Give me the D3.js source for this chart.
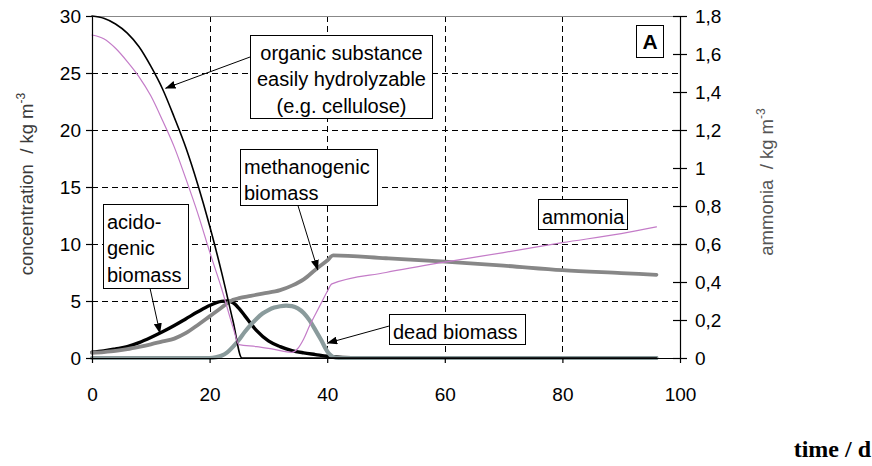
<!DOCTYPE html>
<html>
<head>
<meta charset="utf-8">
<script src="https://cdn.jsdelivr.net/npm/d3@7/dist/d3.min.js"></script>
<style>
  body { margin: 0; background: #fff; }
  svg { display: block; }
</style>
</head>
<body>
<svg id="chart" width="872" height="466"></svg>
<script>
// ---- axis ticks ----
const timeTicks = [0, 20, 40, 60, 80, 100];
const concTicks = [0, 5, 10, 15, 20, 25, 30];
const ammoniaTicks = [0, 0.2, 0.4, 0.6, 0.8, 1.0, 1.2, 1.4, 1.6, 1.8];

// ---- simulated time courses (time in d, concentrations in kg m-3) ----
// organic substance, easily hydrolyzable (left axis)
const organicTime = [0, 2, 4, 6, 8, 10, 12, 14, 16, 18, 20, 22, 24, 25.5, 30, 40, 50, 60, 70, 80, 90, 96];
const organicConc = [30, 29.8, 29.3, 28.5, 27.3, 25.6, 23.6, 21.1, 18.4, 15.2, 11.6, 7.6, 3.2, 0, 0, 0, 0, 0, 0, 0, 0, 0];

// acidogenic biomass (left axis)
const acidoTime = [0, 2, 4, 6, 8, 10, 12, 14, 16, 18, 20, 22, 23, 24, 25, 26, 28, 30, 32, 34, 36, 38, 40, 42, 45, 50, 96];
const acidoConc = [0.5, 0.62, 0.8, 1.0, 1.35, 1.8, 2.3, 2.85, 3.45, 4.05, 4.6, 4.97, 5.0, 4.85, 4.35, 3.7, 2.4, 1.5, 1.0, 0.65, 0.45, 0.3, 0.15, 0.07, 0.02, 0, 0];

// methanogenic biomass (left axis)
const methanoTime = [0, 2, 4, 6, 8, 10, 12, 14, 16, 18, 20, 22, 23, 24, 25, 27, 29, 32, 34, 36, 38, 40, 41, 50, 60, 70, 80, 90, 96];
const methanoConc = [0.45, 0.52, 0.62, 0.78, 0.98, 1.2, 1.45, 1.7, 2.2, 2.9, 3.65, 4.4, 4.8, 5.1, 5.25, 5.45, 5.65, 5.95, 6.35, 6.9, 7.75, 8.55, 9.0, 8.75, 8.45, 8.1, 7.7, 7.45, 7.3];

// dead biomass (left axis)
const deadTime = [0, 20, 21, 22, 23, 24, 25, 26, 27, 28, 29, 30, 31, 32, 33, 34, 35, 36, 37, 38, 39, 40, 41, 42, 96];
const deadConc = [0, 0, 0.05, 0.2, 0.5, 1.0, 1.6, 2.3, 2.9, 3.45, 3.9, 4.2, 4.42, 4.54, 4.6, 4.55, 4.35, 3.95, 3.3, 2.45, 1.55, 0.6, 0.1, 0, 0];

// ammonia (right axis)
const ammoniaTime = [0, 2, 4, 6, 8, 10, 12, 14, 16, 18, 20, 22, 24, 25, 28, 31, 34, 35, 36, 37, 38, 39, 40, 40.8, 50, 60, 70, 80, 90, 96];
const ammoniaConc = [1.70, 1.68, 1.63, 1.56, 1.48, 1.38, 1.25, 1.11, 0.94, 0.76, 0.56, 0.37, 0.16, 0.07, 0.06, 0.045, 0.03, 0.05, 0.1, 0.17, 0.23, 0.29, 0.35, 0.39, 0.45, 0.505, 0.555, 0.607, 0.655, 0.69];

const SANS = '"Liberation Sans", Arial, sans-serif';

const svg = d3.select('#chart');

const x = d3.scaleLinear().domain([0, 100]).range([92, 680]);
const yL = d3.scaleLinear().domain([0, 30]).range([358, 16]);
const yR = d3.scaleLinear().domain([0, 1.8]).range([358, 16]);

// ---- grid ----
const grid = svg.append('g').attr('stroke', '#000').attr('stroke-width', 1)
  .attr('stroke-dasharray', '6,4').attr('shape-rendering', 'crispEdges');
grid.selectAll('line.h').data(concTicks.filter(d => d > 0 && d < 30)).join('line')
  .attr('class', 'h')
  .attr('x1', x(0)).attr('x2', x(100))
  .attr('y1', d => Math.round(yL(d)) + 0.5).attr('y2', d => Math.round(yL(d)) + 0.5);
grid.selectAll('line.v').data(timeTicks.filter(d => d > 0 && d < 100)).join('line')
  .attr('class', 'v')
  .attr('x1', d => Math.round(x(d)) + 0.5).attr('x2', d => Math.round(x(d)) + 0.5)
  .attr('y1', yL(30)).attr('y2', yL(0));

// top frame line
svg.append('line')
  .attr('x1', x(0)).attr('x2', x(100))
  .attr('y1', Math.round(yL(30)) + 0.5).attr('y2', Math.round(yL(30)) + 0.5)
  .attr('stroke', '#888').attr('stroke-width', 1);

// ---- series ----
function series(times, vals, yScale) {
  return d3.line()
    .x((d, i) => x(times[i]))
    .y(d => yScale(d))
    .curve(d3.curveMonotoneX)(vals);
}

const lines = svg.append('g').attr('fill', 'none').attr('stroke-linejoin', 'round').attr('stroke-linecap', 'round');
lines.append('path').attr('d', series(acidoTime, acidoConc, yL))
  .attr('stroke', '#000').attr('stroke-width', 3.4);
lines.append('path').attr('d', series(methanoTime, methanoConc, yL))
  .attr('stroke', '#878787').attr('stroke-width', 3.8);
lines.append('path').attr('d', series(deadTime, deadConc, yL))
  .attr('stroke', '#8a9b9c').attr('stroke-width', 4.2);
lines.append('path').attr('d', series(organicTime, organicConc, yL))
  .attr('stroke', '#000').attr('stroke-width', 1.6);
lines.append('path').attr('d', series(ammoniaTime, ammoniaConc, yR))
  .attr('stroke', '#c47cc8').attr('stroke-width', 1.2);

// ---- axes ----
const axisLeft = svg.append('g')
  .attr('transform', `translate(${x(0)},0)`)
  .call(d3.axisLeft(yL).tickValues(concTicks).tickSize(6).tickSizeOuter(0).tickPadding(5));
const axisRight = svg.append('g')
  .attr('transform', `translate(${x(100)},0)`)
  .call(d3.axisRight(yR).tickValues(ammoniaTicks).tickSize(7).tickSizeOuter(0).tickPadding(8)
    .tickFormat(d => d3.format('~g')(+d.toFixed(1)).replace('.', ',')));
axisRight.selectAll('.tick line').attr('x1', -7);
const axisBottom = svg.append('g')
  .attr('transform', `translate(0,${yL(0)})`)
  .call(d3.axisBottom(x).tickValues(timeTicks).tickSize(5).tickSizeOuter(0).tickPadding(25));

[axisLeft, axisRight, axisBottom].forEach(g => {
  g.selectAll('path.domain').attr('stroke', '#000').attr('stroke-width', 1.2);
  g.selectAll('.tick line').attr('stroke', '#000').attr('stroke-width', 1.2);
  g.selectAll('text').attr('font-family', SANS).attr('font-size', 19).attr('fill', '#000');
});

// ---- axis titles ----
function axisTitle(tx, ty, main, color) {
  const t = svg.append('text')
    .attr('transform', `translate(${tx},${ty}) rotate(-90)`)
    .attr('text-anchor', 'middle')
    .attr('font-family', SANS).attr('font-size', 18.5).attr('fill', color);
  t.append('tspan').text(main);
  t.append('tspan').attr('dy', -8).attr('font-size', 12).text('-3');
}
axisTitle(33, 184, 'concentration\u00a0\u00a0/ kg m', '#3a3a3a');
axisTitle(773, 182, 'ammonia\u00a0\u00a0/ kg m', '#555');

svg.append('text')
  .attr('x', 871).attr('y', 457)
  .attr('text-anchor', 'end')
  .attr('font-family', '"Liberation Serif", "Times New Roman", serif')
  .attr('font-weight', 'bold').attr('font-size', 24)
  .text('time / d');

// ---- annotations (positions in data units) ----
const defs = svg.append('defs');
defs.append('marker')
  .attr('id', 'arrowhead')
  .attr('markerUnits', 'userSpaceOnUse')
  .attr('markerWidth', 11).attr('markerHeight', 8)
  .attr('refX', 10).attr('refY', 4)
  .attr('orient', 'auto')
  .append('path').attr('d', 'M0,0 L10.5,4 L0,8 Z').attr('fill', '#000');

const notes = [
  { lines: ['organic substance', 'easily hydrolyzable', '(e.g. cellulose)'], box: [26.87, 28.33, 57.8, 21.05], align: 'middle', arrow: [26.87, 26.4, 12.5, 23.66] },
  { lines: ['methanogenic', 'biomass'], box: [25.2, 18.33, 48.5, 13.42], align: 'start', arrow: [35.0, 13.42, 38.4, 7.72] },
  { lines: ['acido-', 'genic', 'biomass'], box: [1.87, 13.5, 16.3, 6.14], align: 'start', arrow: [9.86, 6.14, 11.56, 2.17] },
  { lines: ['ammonia'], box: [75.85, 13.95, 91.0, 11.3], align: 'start', arrow: null },
  { lines: ['dead biomass'], box: [50.5, 3.86, 73.6, 1.23], align: 'start', arrow: [50.5, 2.8, 40.0, 1.3] }
];

const noteG = svg.append('g');
notes.forEach(n => {
  if (n.arrow) {
    noteG.append('line')
      .attr('x1', x(n.arrow[0])).attr('y1', yL(n.arrow[1]))
      .attr('x2', x(n.arrow[2])).attr('y2', yL(n.arrow[3]))
      .attr('stroke', '#000').attr('stroke-width', 1)
      .attr('marker-end', 'url(#arrowhead)');
  }
});
notes.forEach(n => {
  const x0 = Math.round(x(n.box[0])) + 0.5, y0 = Math.round(yL(n.box[1])) + 0.5;
  const x1 = Math.round(x(n.box[2])) + 0.5, y1 = Math.round(yL(n.box[3])) + 0.5;
  noteG.append('rect')
    .attr('x', x0).attr('y', y0).attr('width', x1 - x0).attr('height', y1 - y0)
    .attr('fill', '#fff').attr('stroke', '#000').attr('stroke-width', 1);
  const tx = n.align === 'middle' ? (x0 + x1) / 2 : x0 + 3.5;
  noteG.append('text')
    .attr('font-family', SANS).attr('font-size', 20).attr('fill', '#000')
    .attr('text-anchor', n.align)
    .selectAll('tspan').data(n.lines).join('tspan')
    .attr('x', tx).attr('y', (d, i) => y0 + 24 + i * 26.5)
    .text(d => d);
});

// panel letter
const ax0 = Math.round(x(92.5)) + 0.5, ay0 = Math.round(yL(29.2)) + 0.5;
const ax1 = Math.round(x(97.1)) + 0.5, ay1 = Math.round(yL(26.4)) + 0.5;
svg.append('rect')
  .attr('x', ax0).attr('y', ay0).attr('width', ax1 - ax0).attr('height', ay1 - ay0)
  .attr('fill', '#fff').attr('stroke', '#000').attr('stroke-width', 1);
svg.append('text')
  .attr('x', (ax0 + ax1) / 2).attr('y', (ay0 + ay1) / 2 + 7.5)
  .attr('text-anchor', 'middle')
  .attr('font-family', SANS).attr('font-weight', 'bold').attr('font-size', 21)
  .text('A');
</script>
</body>
</html>
